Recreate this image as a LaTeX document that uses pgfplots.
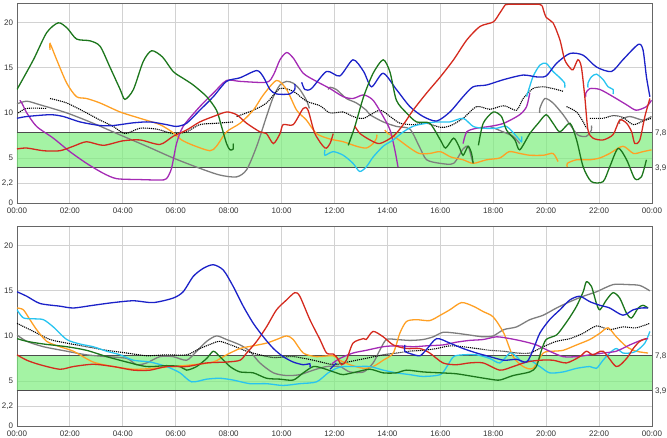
\documentclass[border=0pt]{standalone}
\usepackage{pgfplots}
\pgfplotsset{compat=1.18}
\usepackage{fontspec}
\setmainfont{Liberation Sans}
\definecolor{cgreen}{HTML}{1C761C}
\definecolor{corange}{HTML}{FFA024}
\definecolor{cblue}{HTML}{1C22C8}
\definecolor{cpurple}{HTML}{A42AB4}
\definecolor{cred}{HTML}{D42A1E}
\definecolor{cgray}{HTML}{7E7E7E}
\definecolor{ccyan}{HTML}{28C4F0}
\definecolor{bandc}{HTML}{7DEE7D}
\definecolor{gridc}{HTML}{D2D2D2}
\definecolor{axc}{HTML}{666666}
\definecolor{labc}{HTML}{333333}
\pgfplotsset{
  panel/.style={width=635pt,height=200pt,scale only axis,
    xmin=0,xmax=24,ymin=0,ymax=22.2,
    xtick={0,2,...,24},
    xticklabels={00:00,02:00,04:00,06:00,08:00,10:00,12:00,14:00,16:00,18:00,20:00,22:00,00:00},
    ytick={0,2.2,5,10,15,20},
    yticklabels={0,{2,2},5,10,15,20},
    grid=major, major grid style={color=gridc,line width=0.9pt},
    major tick length=0pt,
    axis line style={color=axc,line width=0.9pt},
    tick label style={font=\fontsize{8}{9.6}\selectfont,text=labc},
    /pgf/number format/assume math mode=true,
    clip mode=individual,
    xticklabel style={yshift=-1pt},
    yticklabel style={xshift=-0.5pt},
  },
  ln/.style={line width=1.3pt,smooth,tension=0.45,no markers},
  gr/.style={ln,color=cgreen},
  orr/.style={ln,color=corange},
  bl/.style={ln,color=cblue},
  pu/.style={ln,color=cpurple},
  re/.style={ln,color=cred},
  gy/.style={ln,color=cgray},
  cy/.style={ln,color=ccyan},
  dt/.style={ln,color=black,line width=1.1pt,dash pattern=on 1.1pt off 0.9pt},
  band/.style={fill=bandc,fill opacity=0.7,draw=none,no markers},
  bline/.style={color=black!70,line width=1.1pt,no markers},
}
\newcommand{\bandlabels}{%
  \addplot[band] coordinates {(0,3.9) (24,3.9) (24,7.8) (0,7.8) (0,3.9)};
  \addplot[bline] coordinates {(0,7.8) (24,7.8)};
  \addplot[bline] coordinates {(0,3.9) (24,3.9)};
  \node[anchor=west,font=\fontsize{8}{9.6}\selectfont,text=labc,inner sep=0pt,xshift=3pt] at (axis cs:24,7.8) {7,8};
  \node[anchor=west,font=\fontsize{8}{9.6}\selectfont,text=labc,inner sep=0pt,xshift=3pt] at (axis cs:24,3.9) {3,9};
}
\begin{document}
\begin{tikzpicture}
\useasboundingbox (0pt,0pt) rectangle (667pt,-438pt);
% ---------------- top panel ----------------
\begin{axis}[panel,at={(17pt,-3pt)},anchor=north west]
\bandlabels
% gray
\addplot[gy] coordinates {(0,11.0)(0.37,11.3)(0.87,10.9)(1.88,10.0)(2.88,8.85)(3.9,7.55)(4.9,6.3)(5.9,5.0)(6.91,3.85)(7.67,3.1)(8.3,2.9)(8.68,3.7)(9.06,6.3)(9.43,9.6)(9.69,11.8)(9.94,13.1)(10.19,13.5)(10.44,13.3)(10.69,12.6)(10.94,11.4)(11.05,10.5)};
\addplot[gy] coordinates {(11.76,12.6)(11.83,12.85)(12.07,12.6)(12.45,11.6)(12.83,11.1)(13.2,10.3)(13.34,9.8)(13.84,9.0)(14.34,8.5)(14.85,8.2)(15.2,6.3)(15.48,4.8)(16.0,4.4)(16.5,4.4)(16.86,6.0)(17.05,6.3)(17.18,5.0)(17.24,4.4)};
\addplot[gy] coordinates {(17.87,8.5)(18.37,7.9)(18.75,7.4)(19.0,6.6)};
\addplot[gy] coordinates {(19.76,10.0)(19.76,10.5)(19.95,11.6)(20.26,11.1)(20.64,9.8)(20.9,8.7)(21.2,7.55)(21.52,7.4)(21.71,8.1)(21.71,8.6)};
\addplot[gy] coordinates {(22.78,8.8)(22.78,9.2)(23.16,9.6)(23.66,9.2)(23.98,9.6)};
% dotted mean
\addplot[dt] coordinates {(0.05,10.0)(0.37,10.5)(1.12,10.5)};
\addplot[dt] coordinates {(1.25,11.6)(1.88,11.1)(2.63,10.0)(3.14,9.2)(3.64,8.5)(4.08,7.7)(4.65,8.3)(5.28,8.2)(5.9,7.7)(6.41,7.9)(6.91,8.7)(7.54,8.85)(8.17,9.0)};
\addplot[dt] coordinates {(8.3,9.6)(8.93,10.3)(9.43,11.1)(9.94,12.7)(10.44,12.4)(10.94,11.3)(11.45,10.8)(11.83,10.0)(12.33,10.1)(12.7,9.6)(13.1,9.4)(13.71,10.3)(14.1,9.6)(14.48,8.85)(15.0,8.7)(15.48,8.85)(16.0,8.4)(16.36,8.55)(16.86,9.4)(17.37,10.7)(17.87,10.4)(18.4,10.8)(18.88,10.3)(19.13,11.6)(19.5,12.7)(19.87,12.9)(20.26,12.7)(20.64,12.4)};
\addplot[dt] coordinates {(20.77,10.7)(21.15,10.1)(21.4,9.0)(21.52,8.3)};
\addplot[dt] coordinates {(21.65,9.4)(22.15,9.4)(22.53,9.7)(22.9,9.5)(23.29,8.7)(23.66,9.1)(23.98,9.4)};
% orange
\addplot[orr] coordinates {(1.25,17.0)(1.25,17.7)(1.5,15.9)(1.88,13.3)(2.25,11.8)(2.63,11.6)(3.14,11.1)(3.9,10.1)(4.65,9.4)(5.4,8.7)(5.9,7.8)(6.22,7.0)(6.66,6.4)(7.29,5.8)(7.54,6.3)(7.92,7.9)(8.43,8.85)(8.93,10.3)(9.31,12.0)(9.81,13.6)(10.19,12.6)(10.57,10.3)(10.94,9.2)(11.32,7.7)(11.83,7.1)(12.33,6.8)(12.83,6.3)(13.2,6.1)(13.46,6.6)(13.59,7.2)(13.6,7.6)};
\addplot[orr] coordinates {(13.9,8.1)(14.03,7.7)(14.34,7.2)(14.85,6.1)(15.2,5.5)(15.6,5.5)(16.0,5.7)(16.4,5.1)(16.86,4.8)(17.24,4.4)(17.75,4.8)(18.25,5.0)(18.6,5.7)(19.0,5.5)(19.38,5.3)(19.9,5.3)(20.26,5.5)(20.45,4.6)};
\addplot[orr] coordinates {(20.8,4.0)(20.8,4.4)(21.15,4.8)(21.65,4.8)(22.03,5.0)(22.4,5.5)(22.9,6.3)(23.3,5.5)(23.66,5.7)(23.98,5.9)};
% purple
\addplot[pu] coordinates {(0.11,11.4)(0.2,11.0)(0.37,10.0)(0.74,8.5)(1.37,7.2)(2.0,5.7)(2.63,4.4)(3.26,3.3)(3.77,2.7)(4.65,2.6)(5.4,2.55)(5.65,2.7)(5.84,3.85)(6.03,6.6)(6.28,8.5)(6.91,10.7)(7.42,12.2)(7.92,13.6)(8.43,13.5)(9.43,13.4)(9.69,14.2)(9.94,15.9)(10.19,16.7)(10.44,16.1)(10.82,14.4)(11.32,13.5)(11.83,12.7)(12.33,11.8)(12.7,11.6)(13.1,12.0)(13.46,11.4)(13.84,9.6)(14.1,8.1)(14.28,5.9)(14.4,4.0)};
\addplot[pu] coordinates {(16.86,6.6)(17.0,7.9)(17.37,8.3)(17.87,8.5)(18.4,8.85)(19.0,9.8)(19.26,10.7)(19.38,12.2)};
\addplot[pu] coordinates {(21.5,11.8)(21.5,12.2)(21.65,12.7)(22.03,12.6)(22.53,11.8)(23.04,10.9)(23.4,10.3)(23.79,10.7)(23.98,11.4)};
% cyan
\addplot[cy] coordinates {(11.64,5.9)(11.64,5.3)(11.95,5.7)(12.33,5.3)(12.7,4.4)(12.95,3.5)(13.2,4.0)(13.46,5.1)(13.84,6.3)(14.22,7.0)(14.6,7.9)(15.0,8.55)(15.48,8.85)(15.86,9.0)(16.36,9.0)(16.86,9.4)(17.24,8.5)(17.62,8.3)(18.13,8.3)(18.5,8.5)(18.88,7.4)(19.07,6.8)(19.07,7.4)};
\addplot[cy] coordinates {(19.26,11.8)(19.5,14.0)(19.76,15.3)(20.0,15.5)(20.26,14.6)(20.52,13.9)(20.7,13.3)(20.7,12.8)};
\addplot[cy] coordinates {(21.58,12.8)(21.58,13.3)(21.71,14.0)(21.9,14.3)(22.15,13.7)(22.34,12.9)(22.53,12.6)(22.53,12.1)};
% blue
\addplot[bl] coordinates {(0,9.4)(0.37,9.6)(1.25,9.8)(1.75,9.6)(2.38,9.0)(3.14,8.6)(3.64,8.6)(4.4,8.9)(5.03,9.0)(5.65,8.7)(6.03,8.5)(6.41,8.85)(6.91,10.3)(7.42,11.8)(7.92,13.5)(8.43,13.9)(9.06,14.7)(9.31,14.0)(9.56,12.6)(9.81,12.1)(10.31,12.1)(10.5,12.6)(10.5,13.2)};
\addplot[bl] coordinates {(10.76,13.4)(10.88,12.6)(11.13,12.7)(11.7,14.6)(12.2,14.1)(12.7,15.9)(13.1,14.6)(13.4,12.9)(13.84,14.4)(14.34,12.6)(14.85,10.7)(15.35,9.6)(15.86,9.1)(16.36,10.1)(16.86,11.8)(17.24,12.9)(17.75,13.1)(18.4,13.7)(19.13,14.2)(19.63,14.0)(20.0,14.1)(20.39,15.5)(20.9,16.6)(21.4,16.4)(21.9,15.1)(22.47,14.6)(22.9,15.9)(23.48,17.6)(23.66,17.0)(23.79,14.0)(23.92,11.8)};
% green
\addplot[gr] coordinates {(0,12.6)(0.62,15.9)(1.12,18.9)(1.56,20.0)(1.9,19.4)(2.25,18.2)(2.76,18.0)(3.14,17.4)(3.51,15.1)(3.9,12.6)(4.08,11.5)(4.4,12.6)(4.77,15.7)(5.09,16.9)(5.5,16.2)(5.9,14.6)(6.3,13.8)(6.66,13.1)(7.17,11.8)(7.54,10.3)(7.73,8.5)(7.92,6.6)(8.05,5.9)(8.17,6.0)(8.17,6.6)};
\addplot[gr] coordinates {(12.52,6.4)(12.77,8.5)(13.1,11.8)(13.46,14.4)(13.84,15.9)(14.1,14.5)(14.34,11.4)(14.72,10.0)(15.1,9.0)(15.6,8.85)(16.0,7.0)(16.2,6.1)(16.5,7.2)(16.7,6.3)(16.86,5.3)(17.05,6.3)(17.18,5.5)(17.24,4.4)};
\addplot[gr] coordinates {(17.44,6.4)(17.62,8.85)(18.0,10.1)(18.31,9.6)(18.5,8.1)(18.82,7.0)(19.0,5.9)(19.38,7.7)(19.7,8.85)(20.0,9.8)(20.26,8.85)(20.52,7.9)(20.9,8.85)(21.15,7.0)(21.4,4.0)(21.71,2.37)(22.15,2.37)(22.4,4.0)(22.72,6.07)(23.04,4.8)(23.35,2.7)(23.6,2.9)(23.79,4.8)};
% red
\addplot[re] coordinates {(0,6.0)(0.37,6.1)(1.0,5.8)(1.62,5.8)(2.13,6.3)(2.63,6.8)(3.26,6.4)(4.0,6.9)(4.65,7.0)(5.4,6.5)(5.9,7.4)(6.41,8.1)(6.91,9.0)(7.42,9.6)(7.92,10.1)(8.3,9.8)(8.68,8.85)(9.18,7.9)(9.43,7.7)(9.69,6.6)(9.94,7.7)(10.06,8.7)(10.44,8.7)(10.82,10.5)(11.0,10.3)(11.26,7.7)(11.64,6.1)(11.83,6.6)(11.95,7.7)};
\addplot[re] coordinates {(12.77,8.5)(12.97,7.7)(13.34,7.0)(13.71,6.6)(14.22,7.4)(14.6,8.7)(14.97,10.3)(15.48,12.2)(16.0,14.0)(16.5,15.9)(17.0,18.1)(17.5,19.6)(18.0,20.1)(18.25,21.1)(18.45,22.0)};
\addplot[re,sharp plot] coordinates {(18.45,22.0)(18.55,22.05)(19.75,22.05)(19.85,21.9)};
\addplot[re] coordinates {(19.85,21.9)(20.0,20.6)(20.26,20.0)(20.52,18.1)(20.7,15.9)(20.9,15.0)(21.02,14.8)(21.2,15.9)(21.33,15.1)(21.46,11.8)(21.58,8.1)(21.77,7.2)(22.15,7.0)(22.53,7.6)(22.78,9.2)(23.04,8.85)(23.23,7.9)(23.35,6.6)(23.54,7.0)(23.73,9.6)(23.92,11.6)};
\end{axis}
% ---------------- bottom panel ----------------
\begin{axis}[panel,at={(17pt,-226pt)},anchor=north west]
\bandlabels
\addplot[gy] coordinates {(0,10.1)(0.37,9.4)(1.0,8.8)(1.88,8.3)(2.63,7.9)(3.39,7.7)(4.15,7.5)(4.52,6.8)(4.9,7.0)(5.4,7.7)(5.9,7.7)(6.41,7.3)(6.79,8.3)(7.17,9.4)(7.54,10.0)(7.92,9.6)(8.43,9.0)(8.8,8.3)(9.18,7.0)(9.69,5.9)(10.19,5.6)(10.69,5.7)(11.2,6.2)(11.7,6.6)(12.2,6.6)(12.58,6.0)(13.1,6.0)(13.46,7.0)(13.71,8.4)(13.96,9.6)(14.34,9.6)(14.85,9.5)(15.35,9.6)(15.73,9.9)(16.1,10.4)(16.6,10.3)(17.1,10.1)(17.62,9.9)(18.0,10.0)(18.4,10.7)(18.88,11.0)(19.38,11.8)(19.89,12.3)(20.39,13.1)(20.9,13.8)(21.4,14.4)(21.9,14.9)(22.53,15.7)(23.04,15.7)(23.54,15.6)(23.92,15.0)};
\addplot[dt] coordinates {(0,11.4)(0.62,10.5)(1.25,9.6)(1.88,9.2)(2.63,8.8)(3.39,8.4)(4.15,8.1)(4.9,7.8)(5.65,7.9)(6.41,7.9)(6.91,8.6)(7.42,9.2)(7.67,9.4)(8.17,8.9)(8.68,8.3)(9.18,7.9)(9.69,7.6)(10.44,7.7)(11.2,7.3)(11.95,6.8)(12.33,7.0)(12.83,7.3)(13.34,7.6)(13.84,7.9)(14.34,8.1)(14.85,8.3)(15.35,8.4)(15.86,8.6)(16.36,8.9)(16.86,8.8)(17.37,8.6)(17.87,8.4)(18.4,8.3)(18.88,8.1)(19.38,8.1)(19.89,8.8)(20.39,9.4)(20.9,9.7)(21.4,10.3)(21.9,11.1)(22.4,10.7)(22.9,11.0)(23.4,10.9)(23.92,11.4)};
\addplot[orr] coordinates {(0,13.1)(0.24,12.9)(0.49,11.8)(0.74,10.7)(1.12,9.4)(1.62,8.8)(2.13,8.3)(2.88,7.1)(3.64,6.6)(4.4,6.3)(5.15,6.4)(5.9,6.6)(6.66,6.8)(7.42,7.1)(7.92,7.9)(8.43,8.6)(8.93,8.9)(9.43,9.2)(9.81,9.6)(10.19,10.0)(10.44,9.6)(10.82,8.1)(11.32,7.7)(11.95,7.8)(12.2,7.3)(12.58,6.8)(13.1,6.4)(13.46,6.6)(13.84,7.3)(14.22,8.1)(14.47,10.3)(14.72,11.6)(15.1,11.8)(15.6,11.7)(16.0,12.3)(16.36,12.9)(16.8,13.7)(17.24,13.3)(17.62,12.7)(18.0,12.1)(18.4,10.3)(18.75,7.7)(19.13,6.6)(19.5,6.4)(19.89,8.1)(20.26,8.3)(20.64,8.4)(21.15,9.0)(21.65,9.6)(22.03,10.3)(22.34,10.9)(22.65,9.9)(23.04,8.8)(23.4,8.3)(23.85,8.1)};
\addplot[cy] coordinates {(0,12.9)(0.24,12.0)(0.62,11.9)(1.0,11.8)(1.37,11.0)(1.88,9.6)(2.38,9.1)(2.88,8.8)(3.39,8.3)(3.9,7.9)(4.4,7.3)(5.03,7.1)(5.65,6.6)(6.16,5.9)(6.6,4.9)(7.17,5.2)(7.67,5.3)(8.17,5.1)(8.8,4.7)(9.43,4.7)(10.06,4.5)(10.69,4.7)(11.32,4.9)(11.76,5.9)(12.07,6.4)(12.33,6.6)(12.83,6.6)(13.34,6.6)(13.84,6.2)(14.34,5.9)(14.85,5.7)(15.35,5.5)(16.0,5.7)(16.25,6.6)(16.5,7.7)(16.86,7.9)(17.37,7.9)(17.87,7.5)(18.25,7.0)(18.63,8.1)(18.88,7.7)(19.13,7.0)(19.38,7.3)(19.76,6.6)(20.13,5.9)(20.64,6.0)(21.15,6.4)(21.65,6.6)(21.9,6.4)(22.15,7.3)(22.4,8.1)(22.65,8.6)(22.9,8.1)(23.16,8.1)(23.4,8.3)(23.73,9.2)(23.92,10.5)};
\addplot[pu] coordinates {(11.9,6.9)(12.2,7.5)(12.7,8.1)(13.2,8.4)(13.84,8.8)(14.34,8.9)(14.97,8.8)(15.48,8.9)(16.1,9.0)(16.6,9.3)(17.1,9.5)(17.62,9.6)(18.13,9.9)(18.63,9.7)(19.13,9.4)(19.63,9.0)(20.13,8.3)(20.64,7.7)(21.15,7.7)(21.65,7.9)(22.15,8.1)(22.65,8.3)(23.16,9.0)(23.66,9.6)(23.85,9.7)};
\addplot[gr] coordinates {(0,9.7)(0.37,9.4)(1.0,9.1)(1.88,8.8)(2.63,8.4)(3.39,7.7)(4.15,7.1)(4.9,6.6)(5.65,6.7)(6.16,6.6)(6.41,6.2)(6.79,6.6)(7.17,7.5)(7.42,8.3)(7.67,7.7)(8.05,6.6)(8.43,6.0)(8.93,5.9)(9.43,5.3)(9.94,5.2)(10.44,5.1)(10.82,5.9)(11.2,6.6)(11.57,6.4)(12.07,5.9)(12.33,5.7)(12.83,6.0)(13.34,6.3)(13.84,5.9)(14.34,5.9)(14.72,6.2)(15.35,6.0)(16.0,5.9)(16.6,5.8)(17.24,5.5)(17.87,5.2)(18.25,5.1)(18.75,5.6)(19.38,6.0)(19.63,6.6)(19.82,8.4)(20.0,9.6)(20.39,10.1)(20.64,11.0)(20.9,12.1)(21.15,13.3)(21.4,14.9)(21.52,16.0)(21.71,15.5)(21.9,13.6)(22.03,12.9)(22.28,14.0)(22.53,14.8)(22.78,14.2)(23.04,12.5)(23.23,12.0)(23.48,13.1)(23.66,13.4)(23.85,13.1)};
\addplot[re] coordinates {(0,7.9)(0.37,7.3)(0.87,6.8)(1.62,6.3)(2.13,6.6)(2.88,6.85)(3.64,6.6)(4.4,6.2)(5.03,6.2)(5.65,6.6)(6.41,6.6)(7.17,7.0)(7.92,7.1)(8.43,7.3)(8.68,8.1)(9.06,9.4)(9.43,11.0)(9.81,12.9)(10.19,14.0)(10.5,14.8)(10.69,14.4)(11.07,11.8)(11.45,9.6)(11.7,8.1)(11.95,8.0)(12.07,7.7)(12.27,6.8)(12.45,7.3)(12.7,9.2)(13.1,9.7)(13.2,9.6)(13.46,10.5)(13.84,9.9)(14.22,9.0)(14.72,8.6)(15.23,8.6)(15.6,8.1)(16.1,7.0)(16.6,6.8)(17.1,7.0)(17.62,7.0)(18.25,6.2)(18.75,6.6)(19.26,7.1)(19.76,7.3)(20.26,7.3)(20.77,7.0)(21.27,7.7)(21.52,8.3)(21.77,7.9)(22.15,8.3)(22.65,6.6)(23.04,7.5)(23.29,8.6)(23.54,9.4)(23.79,9.7)};
\addplot[bl] coordinates {(0,14.9)(0.37,14.4)(0.87,13.6)(1.62,13.3)(2.13,13.1)(2.88,13.4)(3.64,13.7)(4.4,13.9)(5.15,13.7)(5.9,14.2)(6.28,14.9)(6.66,16.6)(7.04,17.5)(7.42,17.9)(7.8,17.3)(8.17,15.5)(8.55,13.3)(8.93,11.4)(9.31,9.9)(9.69,8.6)(10.06,7.7)(10.44,7.1)(10.82,6.8)(11.07,6.9)(11.07,6.5)};
\addplot[bl] coordinates {(11.83,6.3)(12.07,7.0)};
\addplot[bl] coordinates {(14.66,9.0)(14.66,8.3)(14.9,8.0)(15.23,7.8)(15.48,8.5)(15.86,9.7)(16.36,9.2)(16.86,8.6)(17.37,8.1)(17.87,7.7)(18.4,7.3)(18.88,7.4)(19.26,7.1)(19.5,8.4)(19.76,10.3)(20.13,11.8)(20.52,12.9)(20.9,14.0)(21.27,14.4)(21.65,13.8)(22.03,13.4)(22.4,13.1)(22.9,12.3)(23.29,12.9)(23.6,13.1)(23.85,13.1)};
\end{axis}
\end{tikzpicture}
\end{document}
